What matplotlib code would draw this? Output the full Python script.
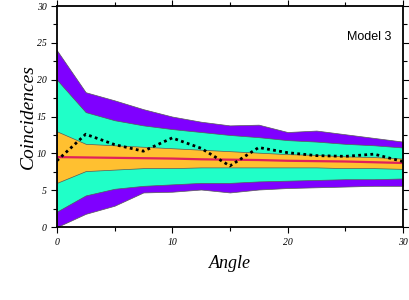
import numpy as np
import matplotlib
matplotlib.use("Agg")
import matplotlib.pyplot as plt
from matplotlib.ticker import MultipleLocator

# angle values (degrees)
angle = [0, 2.5, 5, 7.5, 10, 12.5, 15, 17.5, 20, 22.5, 25, 27.5, 30]

# outer envelope (purple)
outer_hi = [24.0, 18.3, 17.2, 16.0, 15.0, 14.3, 13.8, 13.9, 12.9, 13.1, 12.6, 12.1, 11.6]
outer_lo = [0.0, 1.8, 2.9, 4.7, 4.8, 5.1, 4.7, 5.1, 5.3, 5.4, 5.5, 5.6, 5.6]
# middle envelope (cyan)
mid_hi = [20.0, 15.6, 14.5, 13.8, 13.3, 12.9, 12.5, 12.2, 11.8, 11.6, 11.3, 11.1, 10.8]
mid_lo = [2.1, 4.3, 5.2, 5.6, 5.8, 6.0, 6.0, 6.2, 6.3, 6.4, 6.5, 6.5, 6.6]
# inner envelope (orange)
inner_hi = [13.0, 11.3, 11.1, 10.9, 10.7, 10.5, 10.3, 10.1, 9.9, 9.8, 9.6, 9.5, 9.3]
inner_lo = [6.0, 7.6, 7.8, 8.0, 8.0, 8.1, 8.1, 8.1, 8.1, 8.1, 8.0, 8.0, 7.9]
# model mean (red line)
mean = [9.5, 9.45, 9.4, 9.35, 9.3, 9.2, 9.15, 9.1, 9.0, 8.95, 8.9, 8.8, 8.7]
# observed coincidences (dotted)
observed = [9.0, 12.6, 11.2, 10.3, 12.1, 10.7, 8.3, 10.8, 10.1, 9.7, 9.6, 9.9, 8.9]

fig = plt.figure(figsize=(4.09, 3.0), dpi=100)
ax = fig.add_axes([0.139, 0.243, 0.846, 0.737])

edge = dict(edgecolor="0.35", linewidth=0.5)
ax.fill_between(angle, outer_lo, outer_hi, facecolor="#7f00ff", **edge)
ax.fill_between(angle, mid_lo, mid_hi, facecolor="#20ffc8", **edge)
ax.fill_between(angle, inner_lo, inner_hi, facecolor="#ffc030", **edge)
ax.plot(angle, mean, color="#e0205a", lw=1.6)
ax.plot(angle, observed, color="black", lw=2, linestyle=(0, (1, 1.2)))

ax.set_xlim(0, 30)
ax.set_ylim(0, 30)
ax.xaxis.set_major_locator(MultipleLocator(10))
ax.xaxis.set_minor_locator(MultipleLocator(5))
ax.yaxis.set_major_locator(MultipleLocator(5))
ax.yaxis.set_minor_locator(MultipleLocator(2.5))
ax.tick_params(which="both", direction="out", top=True, right=True,
               labeltop=False, labelright=False, width=0.8)
ax.tick_params(which="major", length=4)
ax.tick_params(which="minor", length=3)
for lab in ax.get_xticklabels() + ax.get_yticklabels():
    lab.set_family("Liberation Serif")
    lab.set_style("italic")
    lab.set_fontsize(7)
for s in ax.spines.values():
    s.set_linewidth(1.3)

ax.set_xlabel("Angle", family="Liberation Serif", style="italic", fontsize=13, labelpad=6)
ax.set_ylabel("Coincidences", family="Liberation Serif", style="italic", fontsize=14, labelpad=0)
ax.text(0.838, 0.86, "Model 3", transform=ax.transAxes, family="Liberation Sans",
        fontsize=9, ha="left", va="center")

fig.savefig("out.png", dpi=100)
